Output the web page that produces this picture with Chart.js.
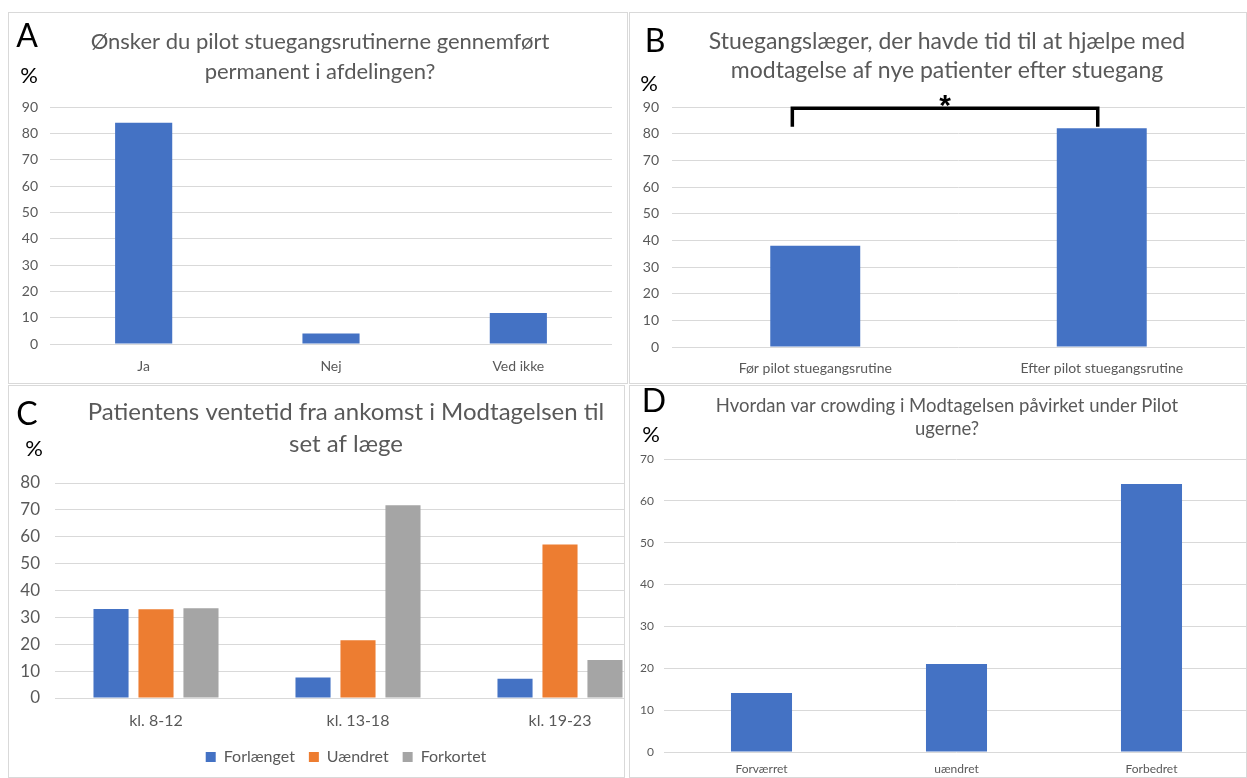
<!DOCTYPE html>
<html lang="da">
<head>
  <meta charset="utf-8" />
  <title>Pilot stuegangsrutine</title>
  <script src="https://cdn.jsdelivr.net/npm/chart.js"></script>
  <style>
    html, body { margin: 0; padding: 0; background: #fff; overflow: hidden; }
    body { width: 1247px; height: 778px; position: relative; font-family: Lato, "Open Sans", sans-serif; }
    .panel { position: absolute; overflow: hidden; }
    .panel canvas { position: absolute; left: 0; top: 0; }
    .frame { position: absolute; inset: 0; border: 1px solid #d9d9d9; box-sizing: border-box; pointer-events: none; }
    .tag { position: absolute; transform: translate(-50%, -50%); color: #000; line-height: 1; white-space: nowrap; }
    .letter { font-size: 32px; }
    .pct { font-size: 22px; }
  </style>
</head>
<body>
  <div class="panel" style="left:8px; top:12px; width:620px; height:372px;">
    <canvas id="chartA" width="624" height="372"></canvas>
    <div class="frame"></div>
  </div>
  <div class="panel" style="left:629px; top:12px; width:618px; height:372px;">
    <canvas id="chartB" width="636" height="372"></canvas>
    <div class="frame"></div>
  </div>
  <div class="panel" style="left:8px; top:385px; width:617px; height:393px;">
    <canvas id="chartC" width="676" height="393"></canvas>
    <div class="frame"></div>
  </div>
  <div class="panel" style="left:629px; top:385px; width:618px; height:393px;">
    <canvas id="chartD" width="636" height="393"></canvas>
    <div class="frame"></div>
  </div>

  <div class="tag letter" style="left:27px; top:35px;">A</div>
  <div class="tag pct" style="left:29px; top:75px;">%</div>
  <div class="tag letter" style="left:655px; top:40px;">B</div>
  <div class="tag pct" style="left:649px; top:83px;">%</div>
  <div class="tag letter" style="left:27px; top:413px;">C</div>
  <div class="tag pct" style="left:34px; top:448px;">%</div>
  <div class="tag letter" style="left:654px; top:400px;">D</div>
  <div class="tag pct" style="left:651px; top:434px;">%</div>

  <script>
    // data
    const catsA = ['Ja', 'Nej', 'Ved ikke'];
    const valsA = [84, 4, 11.8];

    const catsB = ['Før pilot stuegangsrutine', 'Efter pilot stuegangsrutine'];
    const valsB = [38, 82];

    const catsC = ['kl. 8-12', 'kl. 13-18', 'kl. 19-23'];
    const forlaenget = [33.1, 7.6, 7.2];
    const uaendret = [33, 21.5, 57.1];
    const forkortet = [33.4, 71.7, 14.1];

    const catsD = ['Forværret', 'uændret', 'Forbedret'];
    const valsD = [14.1, 21, 64];

    // significance bracket in panel B (category / value units)
    const bracketB = { from: -0.08, to: 0.986, top: 89.5, end: 82.6, label: '*' };

    const BLUE = '#4472C4', ORANGE = '#ED7D31', GREY = '#A5A5A5';
    const TEXT = '#595959', GRID = '#d9d9d9';

    Chart.defaults.font.family = 'Lato, "Open Sans", sans-serif';
    Chart.defaults.color = TEXT;
    Chart.defaults.animation = false;

    // centre title and legend on the whole canvas, not on canvas minus padding
    Chart.register({
      id: 'centerBoxes',
      afterLayout(chart) {
        for (const box of [chart.titleBlock, chart.legend]) {
          if (!box) continue;
          box.left = 0;
          box.right = chart.width;
          box.width = chart.width;
        }
      }
    });

    function yScale(max, fontSize, width, pad) {
      return {
        min: 0, max: max,
        ticks: { stepSize: 10, padding: pad, font: { size: fontSize }, color: TEXT },
        grid: { color: GRID, drawTicks: false },
        border: { display: false },
        afterFit: s => { s.width = width; }
      };
    }
    function xScale(fontSize, height, pad) {
      return {
        ticks: { padding: pad, font: { size: fontSize }, color: TEXT, maxRotation: 0, autoSkip: false },
        grid: { display: false, drawTicks: false },
        border: { display: false },
        afterFit: s => { s.height = height; }
      };
    }
    function title(lines, size, lh, top, bottom) {
      return {
        display: true, text: lines, color: TEXT,
        font: { size: size, weight: 'normal', lineHeight: lh },
        padding: { top: top, bottom: bottom }
      };
    }

    // A
    new Chart(document.getElementById('chartA'), {
      type: 'bar',
      data: { labels: catsA, datasets: [{ data: valsA, backgroundColor: BLUE, categoryPercentage: 1, barPercentage: 0.305 }] },
      options: {
        responsive: false,
        layout: { padding: { left: 0, right: 20, top: 0, bottom: 0 } },
        plugins: {
          legend: { display: false }, tooltip: { enabled: false },
          title: title(['Ønsker du pilot stuegangsrutinerne gennemført', 'permanent i afdelingen?'], 22, 30 / 22, 15, 20)
        },
        scales: { x: xScale(14, 40, 14), y: yScale(90, 14, 42, 12) }
      }
    });

    // B
    const bracketPlugin = {
      id: 'bracket',
      afterDatasetsDraw(chart) {
        const { ctx, scales: { x, y } } = chart;
        const x1 = x.getPixelForValue(bracketB.from);
        const x2 = x.getPixelForValue(bracketB.to);
        const yt = y.getPixelForValue(bracketB.top);
        const ye = y.getPixelForValue(bracketB.end);
        ctx.save();
        ctx.strokeStyle = '#000';
        ctx.lineWidth = 3.5;
        ctx.lineJoin = 'miter';
        ctx.beginPath();
        ctx.moveTo(x1, ye);
        ctx.lineTo(x1, yt);
        ctx.lineTo(x2, yt);
        ctx.lineTo(x2, ye);
        ctx.stroke();
        ctx.fillStyle = '#000';
        ctx.font = 'bold 30px "Liberation Sans", sans-serif';
        ctx.textAlign = 'center';
        ctx.textBaseline = 'alphabetic';
        ctx.fillText(bracketB.label, (x1 + x2) / 2, yt + 7);
        ctx.restore();
      }
    };
    new Chart(document.getElementById('chartB'), {
      type: 'bar',
      data: { labels: catsB, datasets: [{ data: valsB, backgroundColor: BLUE, categoryPercentage: 1, barPercentage: 0.314 }] },
      options: {
        responsive: false,
        layout: { padding: { left: 0, right: 20, top: 0, bottom: 0 } },
        plugins: {
          legend: { display: false }, tooltip: { enabled: false },
          title: title(['Stuegangslæger, der havde tid til at hjælpe med', 'modtagelse af nye patienter efter stuegang'], 23, 29 / 23, 15.5, 21.5)
        },
        scales: { x: xScale(14, 37, 13), y: yScale(90, 14, 43, 13) }
      },
      plugins: [bracketPlugin]
    });

    // C
    new Chart(document.getElementById('chartC'), {
      type: 'bar',
      data: {
        labels: catsC,
        datasets: [
          { label: 'Forlænget', data: forlaenget, backgroundColor: BLUE },
          { label: 'Uændret', data: uaendret, backgroundColor: ORANGE },
          { label: 'Forkortet', data: forkortet, backgroundColor: GREY }
        ]
      },
      options: {
        responsive: false,
        datasets: { bar: { categoryPercentage: 0.668, barPercentage: 0.78 } },
        layout: { padding: { left: 0, right: 23, top: 0, bottom: 3 } },
        plugins: {
          tooltip: { enabled: false },
          title: title(['Patientens ventetid fra ankomst i Modtagelsen til', 'set af læge'], 24, 32 / 24, 11, 23),
          legend: {
            position: 'bottom',
            labels: { boxWidth: 10, boxHeight: 10, padding: 14, font: { size: 16 }, color: TEXT }
          }
        },
        scales: { x: xScale(16, 37, 13), y: yScale(80, 17, 47, 15) }
      }
    });

    // D
    new Chart(document.getElementById('chartD'), {
      type: 'bar',
      data: { labels: catsD, datasets: [{ data: valsD, backgroundColor: BLUE, categoryPercentage: 1, barPercentage: 0.313 }] },
      options: {
        responsive: false,
        layout: { padding: { left: 0, right: 16, top: 0, bottom: 0 } },
        plugins: {
          legend: { display: false }, tooltip: { enabled: false },
          title: title(['Hvordan var crowding i Modtagelsen påvirket under Pilot', 'ugerne?'], 18.5, 23 / 18.5, 9.5, 18.5)
        },
        scales: { x: xScale(12, 26, 10), y: yScale(70, 12, 35, 10) }
      }
    });
  </script>
</body>
</html>
